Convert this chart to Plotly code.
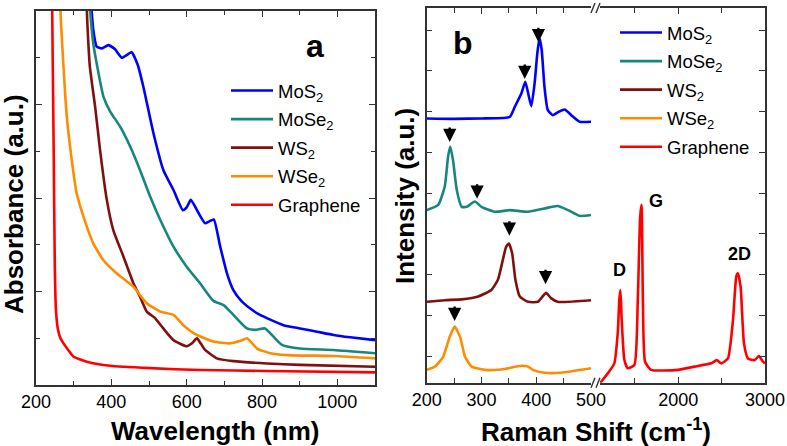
import plotly.graph_objects as go

W, H = 787, 446

def px(x):
    return x / W

def py(y):
    return (H - y) / H

# ---------------- Panel a: UV-Vis absorbance ----------------
wl_mos2 = [335, 345, 352, 361, 375, 392, 410, 428, 445, 454, 470, 485, 512, 538, 565, 590, 600, 611, 630, 649, 660, 672, 689, 707, 724, 745, 768, 790, 813, 857, 901, 946, 990, 1034, 1100]
ab_mos2 = [9.5, 8.3, 7.6, 7.24, 7.2, 7.27, 7.18, 7.0, 7.08, 7.12, 6.85, 6.38, 5.38, 4.6, 4.17, 3.74, 3.8, 3.96, 3.7, 3.46, 3.5, 3.54, 2.96, 2.39, 2.03, 1.8, 1.64, 1.52, 1.43, 1.28, 1.21, 1.14, 1.07, 1.02, 0.96]

wl_mose2 = [335, 342, 352, 361, 379, 397, 423, 450, 476, 503, 530, 565, 600, 636, 671, 698, 724, 760, 782, 808, 831, 853, 901, 990, 1100]
ab_mose2 = [9.5, 8.2, 7.31, 6.88, 6.17, 5.85, 5.53, 5.1, 4.6, 4.03, 3.53, 2.96, 2.53, 2.17, 1.8, 1.71, 1.5, 1.21, 1.18, 1.21, 1.03, 0.86, 0.78, 0.75, 0.68]

wl_ws2 = [328, 336, 343, 357, 370, 388, 405, 432, 459, 476, 494, 516, 538, 565, 600, 615, 627, 638, 649, 680, 724, 813, 901, 1100]
ab_ws2 = [9.5, 7.8, 6.81, 5.95, 5.03, 3.96, 3.32, 2.75, 2.17, 1.89, 1.57, 1.43, 1.21, 0.96, 0.83, 0.9, 1.0, 0.88, 0.75, 0.57, 0.51, 0.46, 0.43, 0.39]

wl_wse2 = [258, 266, 273, 281, 295, 308, 326, 352, 379, 414, 459, 494, 530, 565, 591, 627, 671, 715, 745, 760, 787, 822, 866, 990, 1100]
ab_wse2 = [9.5, 7.8, 6.81, 5.81, 4.81, 4.1, 3.6, 3.03, 2.67, 2.39, 2.1, 1.75, 1.57, 1.5, 1.28, 1.07, 0.93, 0.89, 0.95, 1.0, 0.78, 0.68, 0.64, 0.62, 0.57]

wl_gr = [241, 247, 250, 253, 258, 265, 273, 290, 299, 335, 397, 503, 636, 813, 1100]
ab_gr = [9.5, 5.0, 2.5, 1.6, 1.2, 1.0, 0.89, 0.7, 0.61, 0.5, 0.41, 0.36, 0.32, 0.3, 0.27]

# ---------------- Panel b: Raman (offset traces) ----------------
rs_mos2 = [200, 250, 300, 340, 352, 361, 373, 380, 386, 391, 397, 402, 406, 410, 415, 421, 430, 442, 452, 464, 479, 500]
ri_mos2 = [5.83, 5.82, 5.83, 5.84, 5.87, 6.12, 6.45, 6.73, 6.4, 6.13, 6.69, 7.43, 7.8, 7.51, 6.61, 6.04, 5.91, 6.0, 6.05, 5.91, 5.75, 5.75]

rs_mose2 = [200, 221, 233, 239, 243, 248, 255, 264, 273, 288, 300, 324, 352, 385, 415, 439, 458, 479, 500]
ri_mose2 = [3.58, 3.71, 4.16, 4.89, 5.14, 4.81, 4.07, 3.66, 3.66, 3.79, 3.66, 3.54, 3.58, 3.54, 3.62, 3.68, 3.58, 3.44, 3.46]

rs_ws2 = [200, 233, 264, 294, 318, 330, 339, 345, 350, 356, 362, 370, 385, 403, 411, 418, 427, 439, 500]
ri_ws2 = [1.33, 1.37, 1.39, 1.46, 1.62, 1.87, 2.36, 2.68, 2.76, 2.52, 1.87, 1.46, 1.33, 1.33, 1.45, 1.55, 1.42, 1.33, 1.37]

rs_wse2 = [200, 215, 230, 242, 251, 261, 270, 282, 306, 336, 373, 385, 394, 415, 445, 500]
ri_wse2 = [-0.34, -0.26, -0.02, 0.47, 0.72, 0.47, -0.02, -0.26, -0.34, -0.33, -0.24, -0.26, -0.34, -0.41, -0.41, -0.3]

rs_gr = [1100, 1188, 1265, 1304, 1323, 1335, 1350, 1381, 1419, 1496, 1535, 1562, 1578, 1594, 1619, 1688, 1996, 2188, 2381, 2445, 2496, 2573, 2631, 2669, 2688, 2719, 2758, 2804, 2881, 2930, 2977, 3000]
ri_gr = [-0.67, -0.43, -0.18, 0.56, 1.4, 1.62, 0.88, -0.1, -0.3, -0.22, 1.37, 3.4, 3.71, 1.37, -0.14, -0.34, -0.34, -0.26, -0.18, -0.1, -0.18, -0.06, 0.88, 1.95, 2.03, 1.7, 0.31, -0.06, -0.1, 0.0, -0.14, -0.18]

# arrow markers (x, y tip) on Raman peaks
arrow_x = [379, 404, 242, 292, 351, 417, 251]
arrow_y = [6.8, 7.7, 5.25, 3.86, 2.95, 1.76, 0.86]

names = ["MoS<sub>2</sub>", "MoSe<sub>2</sub>", "WS<sub>2</sub>", "WSe<sub>2</sub>", "Graphene"]
colors = ["#0000FF", "#17877D", "#7F1010", "#FF8C00", "#FF0000"]

fig = go.Figure()

abs_x = [wl_mos2, wl_mose2, wl_ws2, wl_wse2, wl_gr]
abs_y = [ab_mos2, ab_mose2, ab_ws2, ab_wse2, ab_gr]
for i in range(5):
    fig.add_trace(go.Scatter(x=abs_x[i], y=abs_y[i], mode="lines", name=names[i],
                             line=dict(color=colors[i], width=2.6, shape="spline", smoothing=0.5),
                             xaxis="x", yaxis="y", legend="legend", legendgroup="a%d" % i))

ram_x = [rs_mos2, rs_mose2, rs_ws2, rs_wse2]
ram_y = [ri_mos2, ri_mose2, ri_ws2, ri_wse2]
for i in range(4):
    fig.add_trace(go.Scatter(x=ram_x[i], y=ram_y[i], mode="lines", name=names[i],
                             line=dict(color=colors[i], width=2.6, shape="spline", smoothing=0.5),
                             xaxis="x2", yaxis="y2", legend="legend2", legendgroup="b%d" % i))
fig.add_trace(go.Scatter(x=rs_gr, y=ri_gr, mode="lines", name=names[4],
                         line=dict(color=colors[4], width=2.6, shape="spline", smoothing=0.5),
                         xaxis="x3", yaxis="y3", legend="legend2", legendgroup="b4"))

FONT = "Arial, Liberation Sans, sans-serif"
AX = "#333333"
tickfont = dict(family=FONT, size=18, color="black")

common = dict(showline=True, linecolor=AX, linewidth=1.5, ticks="inside", tickcolor=AX,
              tickwidth=1.3, showgrid=False, zeroline=False, tickfont=tickfont, automargin=False)

a_top, a_bot, a_left, a_right = 11, 385, 36, 375
b_top, b_bot, b_left, b_mid1, b_mid2, b_right = 8, 382.7, 426.7, 591, 600, 765

fig.update_layout(
    template="none",
    width=W, height=H, margin=dict(l=0, r=0, t=0, b=0, pad=0, autoexpand=False),
    paper_bgcolor="white", plot_bgcolor="white",
    font=dict(family=FONT, color="black"),
    xaxis=dict(domain=[px(a_left), px(a_right)], range=[200, 1100], anchor="y",
               tick0=200, dtick=200, ticklen=6, mirror="ticks",
               minor=dict(dtick=100, ticklen=4, ticks="inside", tickcolor=AX, tickwidth=1.3),
               **common),
    yaxis=dict(domain=[py(a_bot), py(a_top)], range=[0, 8], anchor="x",
               tick0=0, dtick=2, ticklen=6, mirror="ticks", showticklabels=False,
               minor=dict(dtick=1, ticklen=4, ticks="inside", tickcolor=AX, tickwidth=1.3),
               **common),
    xaxis2=dict(domain=[px(b_left), px(b_mid1)], range=[200, 500], anchor="y2",
                tick0=200, dtick=100, ticklen=6, mirror="ticks",
                minor=dict(dtick=50, ticklen=5, ticks="inside", tickcolor=AX, tickwidth=1.3),
                **common),
    yaxis2=dict(domain=[py(b_bot), py(b_top)], range=[-0.655, 8.54], anchor="x2",
                tick0=0, dtick=1, ticklen=6, showticklabels=False, **common),
    xaxis3=dict(domain=[px(b_mid2), px(b_right)], range=[1100, 3000], anchor="y3",
                tick0=0, dtick=1000, ticklen=6, mirror="ticks",
                minor=dict(dtick=500, ticklen=5, ticks="inside", tickcolor=AX, tickwidth=1.3),
                **common),
    yaxis3=dict(domain=[py(b_bot), py(b_top)], range=[-0.655, 8.54], anchor="x3", side="right",
                tick0=0, dtick=1, ticklen=6, showticklabels=False, **common),
    legend=dict(x=px(226), y=py(72), xanchor="left", yanchor="top", bgcolor="rgba(0,0,0,0)",
                borderwidth=0, font=dict(family=FONT, size=18.5, color="black"),
                tracegroupgap=1.5, itemwidth=42),
    legend2=dict(x=px(615), y=py(14), xanchor="left", yanchor="top", bgcolor="rgba(0,0,0,0)",
                 borderwidth=0, font=dict(family=FONT, size=18.5, color="black"),
                 tracegroupgap=1.5, itemwidth=42),
    showlegend=True,
)

def txt(x, y, text, size, angle=0):
    return dict(x=px(x), y=py(y), text=text, showarrow=False, xref="paper", yref="paper",
                xanchor="center", yanchor="middle", textangle=angle,
                font=dict(family=FONT, size=size, color="black"))

ann = [
    txt(215, 431, "<b>Wavelength (nm)</b>", 26),
    txt(14, 204, "<b>Absorbance (a.u.)</b>", 26, -90),
    txt(596, 430, "<b>Raman Shift (cm<sup>-1</sup>)</b>", 26),
    txt(405, 196, "<b>Intensity (a.u.)</b>", 26, -90),
    txt(315, 46, "<b>a</b>", 32),
    txt(463, 43, "<b>b</b>", 32),
    txt(619, 270, "<b>D</b>", 18),
    txt(656, 201, "<b>G</b>", 18),
    txt(739, 254, "<b>2D</b>", 18),
]
# arrows
for xa, ya in zip(arrow_x, arrow_y):
    ann.append(dict(x=xa, y=ya, xref="x2", yref="y2", ax=0, ay=-16, text="", showarrow=True,
                    arrowhead=2, arrowsize=1.1, arrowwidth=2.4, arrowcolor="black", standoff=0))
fig.update_layout(annotations=ann)

# axis break marks "//"
shapes = []
for ybase in (b_bot, b_top):
    for dx in (0, 5):
        shapes.append(dict(type="line", xref="paper", yref="paper",
                           x0=px(591 + dx), y0=py(ybase + 5), x1=px(595 + dx), y1=py(ybase - 5),
                           line=dict(color=AX, width=1.4)))
fig.update_layout(shapes=shapes)

fig.write_html("out.html", config={"displayModeBar": False},
               post_script="document.body.style.margin='0';document.body.style.padding='0';")
